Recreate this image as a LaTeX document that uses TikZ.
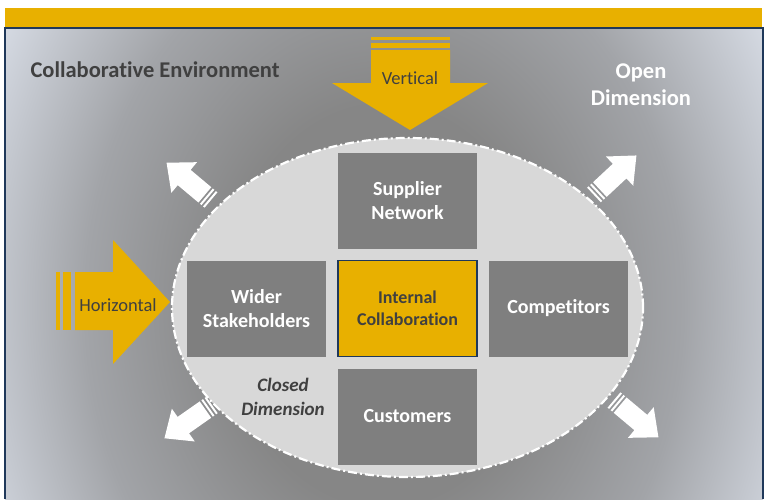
\documentclass[tikz,border=0pt]{standalone}
\usepackage{fontspec}
\setmainfont{Carlito}[Ligatures=NoCommon]
\usetikzlibrary{positioning}

\definecolor{gold}{RGB}{232,176,0}
\definecolor{navy}{RGB}{31,56,90}
\definecolor{boxgray}{RGB}{127,127,127}
\definecolor{ringfill}{RGB}{216,216,216}
\definecolor{darktext}{RGB}{64,64,64}
\definecolor{envmid}{RGB}{134,134,134}
\definecolor{envmidb}{RGB}{162,164,168}
\definecolor{envedge}{RGB}{214,219,228}

\pgfdeclareradialshading{envglow}{\pgfpoint{0bp}{0bp}}{color(0bp)=(envmid); color(10bp)=(envmid); color(19bp)=(envmidb); color(28bp)=(envedge); color(50bp)=(envedge)}

\tikzset{
  box/.style={fill=boxgray, text=white, align=center, minimum width=139pt, minimum height=96pt,
    inner sep=0pt, outer sep=0pt, font=\fontsize{20}{24}\selectfont\bfseries},
  core/.style={box, fill=gold, draw=navy, line width=1.6pt, text=darktext,
    font=\fontsize{18}{22}\selectfont\bfseries},
  ring/.style={fill=ringfill, draw=white, line width=2.2pt, dash pattern=on 9pt off 3pt on 2pt off 3pt},
  arrowlabel/.style={text=darktext, font=\fontsize{18.5}{20}\selectfont},
  pics/outarrow/.style={code={
    \fill[white] (0,-10) rectangle (2,10);
    \fill[white] (4,-10) rectangle (6,10);
    \fill[white] (8,-10) -- (35,-10) -- (35,-20) -- (58,0) -- (35,20) -- (35,10) -- (8,10) -- cycle;
  }}
}

\begin{document}
\begin{tikzpicture}[x=1pt,y=-1pt]
\useasboundingbox (0,0) rectangle (767,499);

% header bar and framed backdrop
\fill[gold] (5,8) rectangle (762,28);
\begin{scope}
\clip (5,28) rectangle (763,499);
\shade[shading=envglow] (-10,-195) rectangle (778,805);
\end{scope}
\draw[navy, line width=2pt] (5,499) -- (5,28) -- (763,28) -- (763,499);

% closed dimension
\draw[ring] (407.5,307.5) ellipse [x radius=235.5pt, y radius=169.5pt];

\node[core] (int) at (407.5,308.5) {Internal\\Collaboration};
\node[box, above=12pt of int] (sup) {Supplier\\Network};
\node[box, below=12pt of int] (cus) {Customers};
\node[box, left=12pt of int] (wid) {Wider\\Stakeholders};
\node[box, right=12pt of int] (com) {Competitors};

% vertical arrow
\fill[gold] (371,37) rectangle (450,40);
\fill[gold] (371,43) rectangle (450,48);
\fill[gold] (371,50) -- (450,50) -- (450,83) -- (488,83) -- (410,130) -- (332,83) -- (371,83) -- cycle;
\node[arrowlabel] (vert) at (410,78) {Vertical};

% horizontal arrow
\fill[gold] (56,272) rectangle (60,330);
\fill[gold] (63,272) rectangle (71,330);
\fill[gold] (75,272) -- (113,272) -- (113,240) -- (170,302) -- (113,364) -- (113,330) -- (75,330) -- cycle;
\node[arrowlabel] (hor) at (118,305) {Horizontal};

% opening outwards
\pic[rotate=140] at (211,200) {outarrow};
\pic[rotate=43] at (594,195) {outarrow};
\pic[rotate=215] at (212,405) {outarrow};
\pic[rotate=-40] at (614,400) {outarrow};

\node[anchor=west, text=darktext, font=\fontsize{22.5}{26}\selectfont\bfseries] (env) at (27,70) {Collaborative Environment};
\node[align=center, text=white, font=\fontsize{22.5}{27}\selectfont\bfseries] (open) at (641,85) {Open\\Dimension};
\node[align=center, text=darktext, font=\fontsize{19}{24}\selectfont\bfseries\itshape] (closed) at (283,397) {Closed\\Dimension};

\end{tikzpicture}
\end{document}
